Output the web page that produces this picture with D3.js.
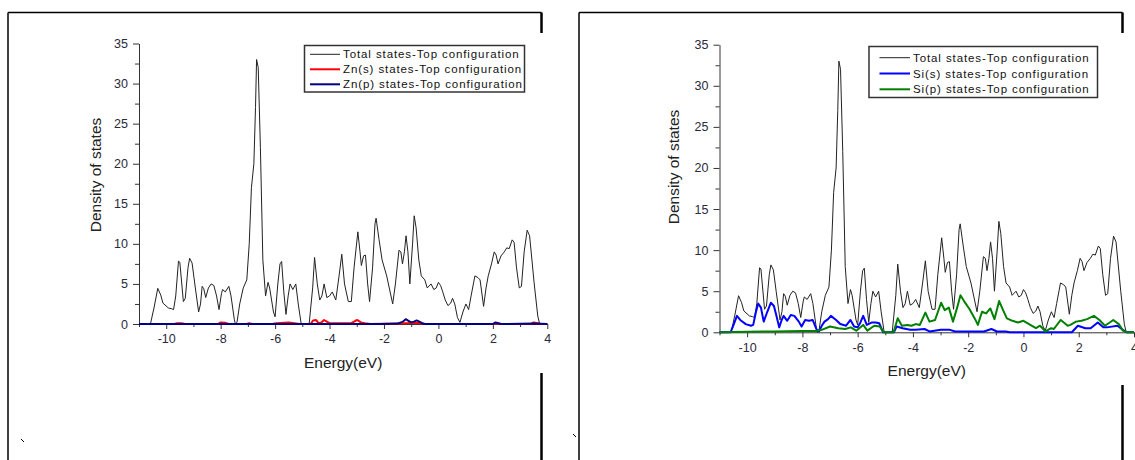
<!DOCTYPE html>
<html lang="en">
<head>
  <meta charset="UTF-8">
  <title>Density of states - Top configuration</title>
  <script src="https://d3js.org/d3.v7.min.js"></script>
  <style>
    body {
      margin: 0;
      background: #fff;
    }
    svg {
      display: block;
      font-family: "Liberation Sans", Arial, sans-serif;
    }
    .tick text {
      fill: #2a2a3a;
      font-size: 12.5px;
    }
  </style>
</head>
<body>
  <svg width="1135" height="460"></svg>

  <script>
    // tick values
    const xTicks = [-10, -8, -6, -4, -2, 0, 2, 4];
    const xMinorTicks = [-11, -9, -7, -5, -3, -1, 1, 3];
    const yTicks = [0, 5, 10, 15, 20, 25, 30, 35];
    const yMinorTicks = [2.5, 7.5, 12.5, 17.5, 22.5, 27.5, 32.5];

    // total DOS (same curve in both panels)
    const energyTotal = [-11, -10.58, -10.45, -10.31, -10.2, -10.12, -9.92, -9.8, -9.73, -9.65, -9.55, -9.5, -9.37, -9.3, -9.2, -9.14, -9.05, -8.95, -8.81, -8.74, -8.68, -8.62, -8.55, -8.45, -8.35, -8.25, -8.15, -8.06, -7.97, -7.93, -7.83, -7.7, -7.62, -7.5, -7.46, -7.4, -7.3, -7.17, -7.04, -6.95, -6.87, -6.78, -6.72, -6.68, -6.62, -6.54, -6.45, -6.35, -6.26, -6.2, -6.06, -6.0, -5.9, -5.82, -5.76, -5.68, -5.6, -5.52, -5.45, -5.35, -5.24, -5.15, -5.04, -4.75, -4.62, -4.55, -4.45, -4.36, -4.28, -4.2, -4.1, -4.0, -3.9, -3.77, -3.65, -3.55, -3.45, -3.31, -3.2, -3.1, -2.96, -2.88, -2.83, -2.75, -2.68, -2.6, -2.53, -2.42, -2.33, -2.29, -2.18, -2.07, -1.9, -1.68, -1.58, -1.45, -1.38, -1.32, -1.25, -1.19, -1.12, -1.05, -0.95, -0.89, -0.82, -0.72, -0.63, -0.5, -0.41, -0.27, -0.17, -0.08, 0.0, 0.08, 0.16, 0.25, 0.35, 0.45, 0.52, 0.6, 0.7, 0.79, 0.9, 1.01, 1.11, 1.2, 1.34, 1.45, 1.53, 1.66, 1.75, 1.83, 1.95, 2.05, 2.12, 2.19, 2.3, 2.42, 2.51, 2.6, 2.71, 2.78, 2.87, 2.97, 3.05, 3.15, 3.26, 3.35, 3.52, 3.65, 3.72, 4];
    const dosTotal = [0, 0, 2.0, 4.45, 3.6, 2.6, 2.0, 1.9, 1.8, 3.5, 7.85, 7.7, 2.8, 3.2, 7.0, 8.2, 7.6, 5, 1.5, 2.5, 4.7, 4.4, 3.3, 4.5, 5.0, 4.8, 3.5, 1.8, 3.8, 4.3, 4.0, 4.7, 3.5, 0.6, 0, 0.2, 2.5, 4.5, 5.5, 10, 17, 20, 27, 33, 32, 22, 8, 3.5, 5.2, 4.5, 1.5, 0.9, 5, 7.5, 7.8, 4, 1.2, 3.5, 5.0, 4.3, 5.0, 2.5, 0, 0, 4.5, 8.3, 5, 3.0, 3.5, 5.0, 3.3, 3.5, 4.0, 3.0, 6, 8.7, 5, 2.8, 2.8, 7, 11.5, 9, 7.3, 8.5, 8.6, 5, 2.8, 7, 12.5, 13.2, 10.5, 8, 6, 2.5, 5, 9.2, 9.0, 7.5, 9, 11, 9, 5, 10, 13.5, 12, 8, 6, 5.5, 4.5, 5, 4.3, 4.5, 5.2, 4.8, 4.0, 3.0, 2.3, 2.6, 3.2, 2.5, 0.8, 0.2, 1.5, 2.5, 1.8, 3.5, 6, 5.8, 5.5, 2.2, 4.5, 6, 7.5, 9, 8.6, 7.5, 8.5, 9.0, 9.5, 9.4, 10.5, 10.2, 7, 4.5, 4.7, 9, 11.7, 11, 5, 1, 0, 0];

    // Zn(s)
    const energyZnS = [-11, -9.7, -9.6, -9.45, -9.3, -8.1, -8.0, -7.85, -7.7, -7.05, -6.95, -6.85, -6.1, -5.95, -5.5, -5.3, -5.1, -4.7, -4.6, -4.5, -4.4, -4.3, -4.2, -4.1, -4.0, -3.2, -3.05, -2.98, -2.85, -2.7, -2.5, -1.5, -1.2, -0.8, -0.5, 2.0, 2.1, 2.3, 3.4, 3.5, 3.65, 3.75, 4];
    const dosZnS = [0, 0, 0.1, 0.1, 0, 0, 0.2, 0.15, 0, 0, 0.1, 0, 0, 0.1, 0.2, 0.1, 0, 0, 0.45, 0.5, 0.1, 0.2, 0.5, 0.3, 0.1, 0.1, 0.4, 0.5, 0.2, 0.1, 0, 0.05, 0.1, 0.15, 0, 0, 0.1, 0, 0, 0.2, 0.1, 0, 0];

    // Zn(p)
    const energyZnP = [-11, -2.1, -1.5, -1.3, -1.2, -1.1, -1.0, -0.9, -0.8, -0.7, -0.6, -0.5, 2.0, 2.1, 2.2, 2.3, 3.5, 4];
    const dosZnP = [0, 0, 0.05, 0.3, 0.6, 0.4, 0.2, 0.3, 0.45, 0.3, 0.1, 0, 0, 0.2, 0.1, 0, 0.05, 0];

    // Si(s)
    const energySiS = [-11, -10.6, -10.48, -10.37, -10.25, -10.05, -9.86, -9.78, -9.68, -9.6, -9.5, -9.4, -9.27, -9.14, -9.03, -8.94, -8.84, -8.75, -8.68, -8.55, -8.42, -8.29, -8.13, -8.03, -7.9, -7.76, -7.63, -7.48, -7.4, -7.3, -7.2, -7.07, -6.97, -6.78, -6.63, -6.42, -6.26, -6.13, -6.0, -5.9, -5.8, -5.67, -5.48, -5.35, -5.22, -5.08, -4.69, -4.59, -4.37, -4.1, -3.9, -3.58, -3.4, -2.99, -2.66, -2.47, -1.43, -1.16, -0.96, -0.64, -0.5, 1.75, 1.97, 2.24, 2.43, 2.69, 2.89, 3.02, 3.4, 3.6, 3.73, 4];
    const dosSiS = [0, 0, 1.0, 2.0, 1.5, 1.0, 0.8, 0.9, 2.5, 3.5, 3.0, 1.3, 2.5, 3.6, 3.2, 2.0, 0.6, 1.5, 2.0, 1.4, 2.1, 2.0, 1.3, 0.7, 1.5, 1.4, 1.5, 0.3, 0.1, 0.8, 1.3, 1.6, 2.0, 1.5, 1.0, 0.8, 1.5, 0.7, 0.6, 1.2, 2.0, 0.9, 1.2, 1.2, 1.1, 0, 0, 0.7, 0.5, 0.3, 0.3, 0.4, 0.1, 0.3, 0.3, 0.1, 0.1, 0.4, 0.1, 0.1, 0, 0, 0.8, 0.5, 0.5, 1.2, 0.6, 0.6, 0.8, 0.3, 0, 0];

    // Si(p)
    const energySiP = [-11, -10.5, -9.0, -8.0, -7.5, -7.3, -7.0, -6.7, -6.45, -6.25, -6.05, -5.8, -5.65, -5.4, -5.2, -5.05, -4.7, -4.55, -4.4, -4.2, -4.05, -3.9, -3.75, -3.55, -3.4, -3.2, -2.98, -2.85, -2.7, -2.55, -2.4, -2.28, -2.15, -1.95, -1.75, -1.65, -1.5, -1.35, -1.2, -1.05, -0.88, -0.75, -0.6, -0.4, -0.2, 0.0, 0.2, 0.45, 0.6, 0.8, 1.0, 1.1, 1.35, 1.6, 1.7, 1.9, 2.1, 2.3, 2.55, 2.75, 2.95, 3.25, 3.45, 3.6, 3.75, 4];
    const dosSiP = [0, 0.05, 0.1, 0.15, 0.15, 0.3, 0.7, 0.5, 0.4, 0.6, 0.2, 0.9, 0.2, 0.8, 0.7, 0, 0, 1.7, 0.8, 0.9, 0.8, 1.0, 0.9, 2.4, 1.3, 1.5, 3.6, 2.7, 3.0, 1.3, 3.0, 4.5, 3.8, 2.8, 1.6, 0.9, 2.5, 2.3, 2.9, 1.6, 3.8, 2.8, 1.7, 1.4, 1.2, 1.4, 1.0, 0.5, 0.8, 0.1, 0.5, 0.4, 1.5, 0.8, 0.9, 1.3, 1.4, 1.6, 2.0, 1.5, 0.8, 1.5, 1.0, 0.2, 0, 0];

    const legendLeft = ["Total states-Top configuration", "Zn(s) states-Top configuration", "Zn(p) states-Top configuration"];
    const legendRight = ["Total states-Top configuration", "Si(s) states-Top configuration", "Si(p) states-Top configuration"];

    const svg = d3.select("svg");

    // page frames around each figure
    function drawFrame(left, right, top, gapTop, gapBottom, markX, markY) {
      const f = svg.append("g").attr("stroke", "#000").attr("fill", "none");
      f.append("line").attr("x1", left).attr("x2", right).attr("y1", top).attr("y2", top).attr("stroke-width", 1.6);
      f.append("line").attr("x1", left).attr("x2", left).attr("y1", top).attr("y2", 460).attr("stroke-width", 1.5);
      f.append("line").attr("x1", right).attr("x2", right).attr("y1", top).attr("y2", gapTop).attr("stroke-width", 2.5);
      f.append("line").attr("x1", right).attr("x2", right).attr("y1", gapBottom).attr("y2", 460).attr("stroke-width", 2.5);
      f.append("line").attr("x1", markX).attr("x2", markX + 3).attr("y1", markY).attr("y2", markY + 3).attr("stroke-width", 1);
    }

    function drawPanel(p) {
      const x = d3.scaleLinear().domain([-11, 4]).range([p.x0, p.x1]);
      const y = d3.scaleLinear().domain([0, 35]).range([p.y0, p.y1]);
      const g = svg.append("g");
      const plain = d => String(d); // plain hyphen, not unicode minus

      // axes (major + minor ticks)
      g.append("g").attr("transform", `translate(0,${p.y0})`)
        .call(d3.axisBottom(x).tickValues(xTicks).tickFormat(plain).tickSize(5).tickPadding(5.5).tickSizeOuter(0));
      g.append("g").attr("transform", `translate(0,${p.y0})`)
        .call(d3.axisBottom(x).tickValues(xMinorTicks).tickSize(3).tickFormat("").tickSizeOuter(0))
        .select(".domain").remove();
      g.append("g").attr("transform", `translate(${p.x0},0)`)
        .call(d3.axisLeft(y).tickValues(yTicks).tickFormat(plain).tickSize(6).tickPadding(5).tickSizeOuter(0));
      g.append("g").attr("transform", `translate(${p.x0},0)`)
        .call(d3.axisLeft(y).tickValues(yMinorTicks).tickSize(4).tickFormat("").tickSizeOuter(0))
        .select(".domain").remove();
      g.selectAll(".domain, .tick line").attr("stroke", "#333");

      // axis titles
      g.append("text")
        .attr("x", (p.x0 + p.x1) / 2)
        .attr("y", p.xTitleY)
        .attr("text-anchor", "middle")
        .attr("font-size", "15.5px")
        .attr("fill", "#222")
        .text("Energy(eV)");
      g.append("text")
        .attr("transform", `translate(${p.yTitleX},${p.yTitleY}) rotate(-90)`)
        .attr("text-anchor", "middle")
        .attr("font-size", "15.5px")
        .attr("fill", "#222")
        .text("Density of states");

      // curves
      const line = d3.line().x(d => x(d[0])).y(d => y(d[1]));
      p.series.forEach(s => {
        g.append("path")
          .datum(d3.zip(s.e, s.v))
          .attr("fill", "none")
          .attr("stroke", s.color)
          .attr("stroke-width", s.width)
          .attr("stroke-linejoin", "round")
          .attr("d", line);
      });

      // legend
      const lg = p.legend;
      g.append("rect")
        .attr("x", lg.x).attr("y", lg.y)
        .attr("width", lg.w).attr("height", lg.h)
        .attr("fill", "#fff")
        .attr("stroke", "#333")
        .attr("stroke-width", 1.5);
      p.series.forEach((s, i) => {
        const cy = lg.rowY + i * lg.step;
        g.append("line")
          .attr("x1", lg.lineX0).attr("x2", lg.lineX1)
          .attr("y1", cy).attr("y2", cy)
          .attr("stroke", s.color)
          .attr("stroke-width", s.width);
        g.append("text")
          .attr("x", lg.textX)
          .attr("y", cy + 4)
          .attr("font-size", "11.5px")
          .attr("letter-spacing", "0.9px")
          .attr("fill", "#111")
          .text(p.labels[i]);
      });
    }

    drawFrame(8, 541.5, 12.5, 33, 373, 21, 439);
    drawFrame(579, 1122.5, 12.5, 33, 385, 573, 434);

    drawPanel({
      x0: 139, x1: 547.3, y0: 324, y1: 43.5,
      xTitleY: 367.5, yTitleX: 101, yTitleY: 175,
      labels: legendLeft,
      legend: { x: 304.5, y: 45.5, w: 220, h: 46.5, rowY: 54.3, step: 15, lineX0: 310, lineX1: 340, textX: 343 },
      series: [
        { e: energyTotal, v: dosTotal, color: "#222", width: 1 },
        { e: energyZnS, v: dosZnS, color: "#ff0000", width: 2 },
        { e: energyZnP, v: dosZnP, color: "#000080", width: 2 }
      ]
    });

    drawPanel({
      x0: 719.5, x1: 1134, y0: 332.3, y1: 44.7,
      xTitleY: 376, yTitleX: 678.5, yTitleY: 167,
      labels: legendRight,
      legend: { x: 869, y: 46.5, w: 228.5, h: 51, rowY: 57.7, step: 15.8, lineX0: 879.5, lineX1: 910, textX: 913 },
      series: [
        { e: energyTotal, v: dosTotal, color: "#222", width: 1 },
        { e: energySiS, v: dosSiS, color: "#0000ff", width: 2 },
        { e: energySiP, v: dosSiP, color: "#008000", width: 2 }
      ]
    });
  </script>
</body>
</html>
